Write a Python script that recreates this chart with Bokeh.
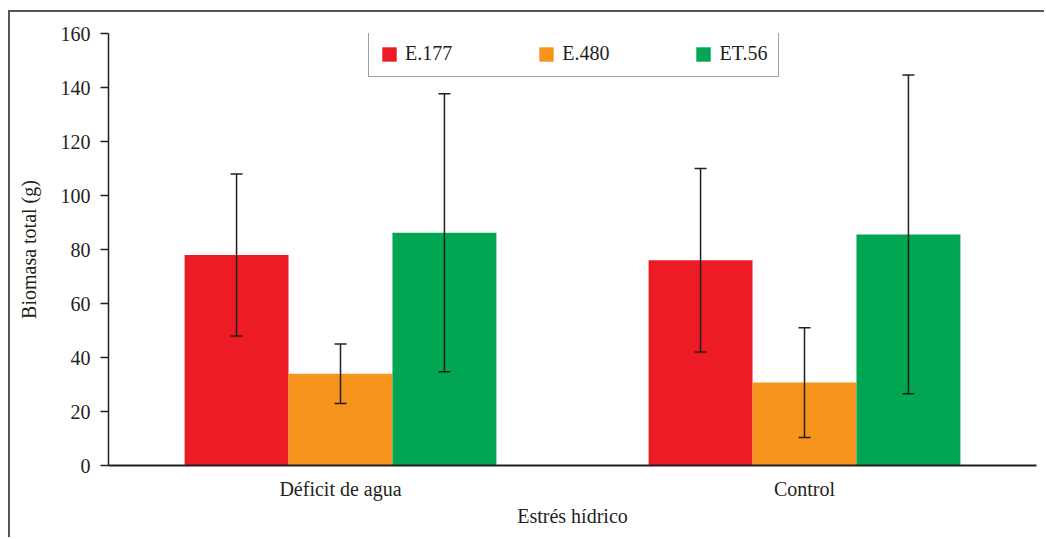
from bokeh.plotting import figure
from bokeh.models import ColumnDataSource, FactorRange, Range1d, FixedTicker, Whisker, TeeHead
from bokeh.transform import dodge
from bokeh.embed import file_html
from bokeh.resources import INLINE

categories = ["Déficit de agua", "Control"]
series = ["E.177", "E.480", "ET.56"]
e177_mean = [78.0, 76.0]
e480_mean = [34.0, 30.7]
et56_mean = [86.2, 85.6]
e177_err = [30.0, 34.0]
e480_err = [11.0, 20.3]
et56_err = [51.5, 59.0]
y_ticks = [0, 20, 40, 60, 80, 100, 120, 140, 160]

colors = ["#ED1C24", "#F7941D", "#00A651"]
FONT = "Liberation Serif"
TXT = "#231F20"

means = [e177_mean, e480_mean, et56_mean]
errs = [e177_err, e480_err, et56_err]

p = figure(x_range=FactorRange(*categories, range_padding=0), y_range=Range1d(0, 160),
           width=1036, height=527, output_backend="svg", toolbar_location=None,
           min_border_left=98, min_border_right=10, min_border_top=21, min_border_bottom=74)
p.styles = {"margin-left": "8px", "margin-top": "10px",
            "border-left": "2px solid #555555", "border-top": "2px solid #555555"}

offsets = [-0.224, 0.0, 0.224]
for name, m, e, c, off in zip(series, means, errs, colors, offsets):
    src = ColumnDataSource(dict(cat=categories, mean=m,
                                upper=[a + b for a, b in zip(m, e)],
                                lower=[a - b for a, b in zip(m, e)]))
    p.vbar(x=dodge("cat", off, range=p.x_range), top="mean", width=0.224, source=src,
           fill_color=c, line_color=None, legend_label=name)
    w = Whisker(base=dodge("cat", off, range=p.x_range), upper="upper", lower="lower", source=src,
                line_color="#231F20", line_width=1.5, level="overlay",
                upper_head=TeeHead(size=12, line_color="#231F20", line_width=1.5),
                lower_head=TeeHead(size=12, line_color="#231F20", line_width=1.5))
    p.add_layout(w)

p.xgrid.visible = False
p.ygrid.visible = False
p.outline_line_color = None
p.background_fill_color = "white"
p.border_fill_color = "white"

yax = p.yaxis[0]
yax.ticker = FixedTicker(ticks=y_ticks)
yax.minor_tick_line_color = None
yax.major_tick_in = 0
yax.major_tick_out = 8
yax.major_tick_line_color = TXT
yax.major_tick_line_width = 1.5
yax.axis_line_color = TXT
yax.axis_line_width = 1.5
yax.major_label_text_font = FONT
yax.major_label_text_font_size = "20px"
yax.major_label_text_color = TXT
yax.major_label_standoff = 10
yax.axis_label = "Biomasa total (g)"
yax.axis_label_text_font = FONT
yax.axis_label_text_font_size = "20px"
yax.axis_label_text_font_style = "normal"
yax.axis_label_text_color = TXT
yax.axis_label_standoff = 18

xax = p.xaxis[0]
xax.major_tick_in = 0
xax.major_tick_out = 0
xax.minor_tick_line_color = None
xax.axis_line_color = TXT
xax.axis_line_width = 2
xax.major_label_text_font = FONT
xax.major_label_text_font_size = "20px"
xax.major_label_text_color = TXT
xax.major_label_standoff = 12
xax.axis_label = "Estrés hídrico"
xax.axis_label_text_font = FONT
xax.axis_label_text_font_size = "20px"
xax.axis_label_text_font_style = "normal"
xax.axis_label_text_color = TXT
xax.axis_label_standoff = 2

lg = p.legend[0]
lg.orientation = "horizontal"
lg.location = (260, 388)
lg.margin = 0
lg.padding = 11
lg.spacing = 85
lg.glyph_width = 18
lg.glyph_height = 18
lg.label_standoff = 7
lg.label_text_font = FONT
lg.label_text_font_size = "20px"
lg.label_text_color = TXT
lg.border_line_color = "#444444"
lg.border_line_width = 1.5
lg.background_fill_alpha = 1

open("out.html", "w").write(file_html(p, INLINE))
